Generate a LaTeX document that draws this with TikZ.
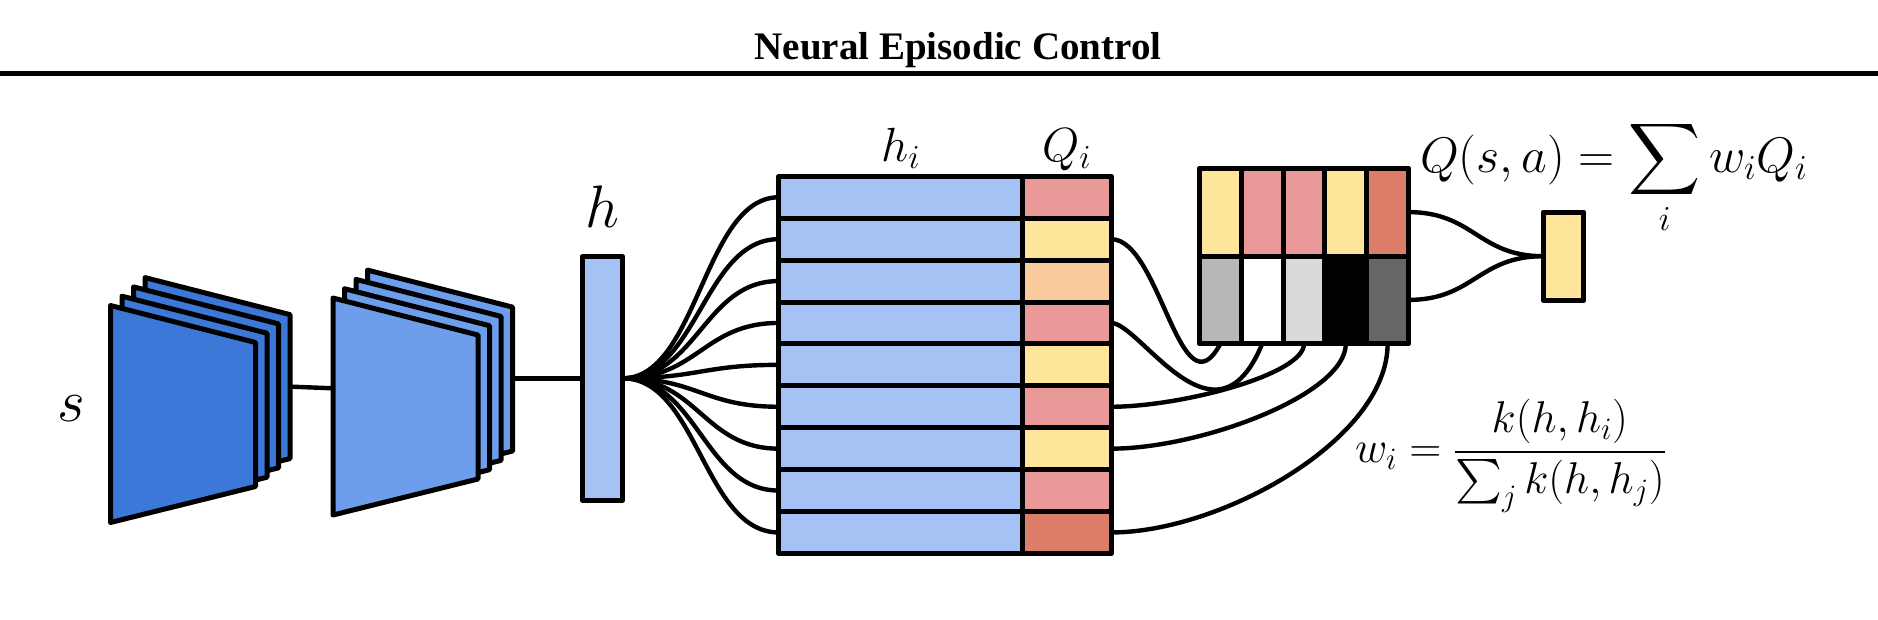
\RequirePackage{fix-cm}
\documentclass[tikz,border=0pt]{standalone}
\usepackage{exscale}
\DeclareFontShape{OMX}{cmex}{m}{n}{<-7.5>cmex7<7.5-8.5>cmex8<8.5-9.5>cmex9<9.5->cmex10}{}
\usepackage{fontspec}
\newfontfamily\titlefont{Liberation Serif}
\definecolor{convA}{HTML}{3C78D8}
\definecolor{convB}{HTML}{6D9EEB}
\definecolor{hblue}{HTML}{A4C2F4}
\definecolor{qred}{HTML}{EA9999}
\definecolor{qyel}{HTML}{FFE599}
\definecolor{qpeach}{HTML}{F9CB9C}
\definecolor{qdark}{HTML}{DD7E6B}
\definecolor{gA}{HTML}{B7B7B7}
\definecolor{gB}{HTML}{FFFFFF}
\definecolor{gC}{HTML}{D9D9D9}
\definecolor{gD}{HTML}{000000}
\definecolor{gE}{HTML}{666666}
\begin{document}
\begin{tikzpicture}[x=1pt,y=-1pt,line width=5pt,line join=round,
  cell/.style={draw,rectangle,inner sep=0pt,outer sep=0pt},
  hcell/.style={cell,fill=hblue,minimum width=243.9pt,minimum height=41.9pt},
  qcell/.style={cell,minimum width=88.5pt,minimum height=41.9pt},
  gcell/.style={cell,minimum width=41.8pt,minimum height=87.8pt},
  panel/.style={draw,fill=#1},
  wire/.style={line width=4.4pt},
  lbl/.style={inner sep=0pt,outer sep=0pt,anchor=base},
  biglbl/.style={lbl,font=\fontsize{60}{70}\selectfont},
  midlbl/.style={lbl,font=\fontsize{48}{58}\selectfont}]
\useasboundingbox (0,0) rectangle (1878,619);
% title and rule
\node[lbl,font=\titlefont\bfseries\fontsize{39}{46}\selectfont] (title) at (958,59) {Neural Episodic Control};
\draw[line width=5pt] (0,73.5) -- (1878,73.5);
% input label
\node[biglbl] (slabel) at (71,421) {$s$};
% first conv stack
\foreach \k in {3,2,1,0}
  \draw[panel=convA] (110.5+11.5*\k,305.5-9.3*\k) -- ++(145,37) -- ++(0,144) -- ++(-145,36) -- cycle;
\coordinate (s1out) at (290,386.6);
\coordinate (s2in) at (333,388.3);
\draw[wire] (s1out) -- (s2in);
% second conv stack
\foreach \k in {3,2,1,0}
  \draw[panel=convB] (333+11.5*\k,298-9.3*\k) -- ++(145,37) -- ++(0,144) -- ++(-145,36) -- cycle;
\coordinate (s2out) at (512.5,378.3);
% embedding h
\node[cell,fill=hblue,minimum width=40.4pt,minimum height=243.5pt] (hbar) at (602.5,378.3) {};
\node[biglbl] (hlabel) at (602.5,227) {$h$};
\draw[wire] (s2out) -- (hbar.west);
% memory table
\foreach \c [count=\k] in {qred,qyel,qpeach,qred,qyel,qred,qyel,qred,qdark}{
  \node[hcell] (h\k) at (900.75,197.25+41.9*\k-41.9) {};
  \node[qcell,fill=\c] (q\k) at (1066.95,197.25+41.9*\k-41.9) {};
}
\node[midlbl] (hilabel) at (900.8,161.7) {$h_i$};
\node[midlbl] (qilabel) at (1066.5,161.5) {$Q_i$};
\foreach \k in {1,...,9}
  \draw[wire] (hbar.east) .. controls +(75,0) and +(-75,0) .. (h\k.west);
% lookup grid
\foreach \c [count=\k] in {qyel,qred,qred,qyel,qdark}
  \node[gcell,fill=\c] (t\k) at (1220.4+41.8*\k-41.8,212.1) {};
\foreach \c [count=\k] in {gA,gB,gC,gD,gE}
  \node[gcell,fill=\c] (b\k) at (1220.4+41.8*\k-41.8,299.9) {};
\draw[wire] (q2.east) .. controls +(49,0) and +(-40,74) .. (b1.south);
\draw[wire] (q4.east) .. controls +(29,0) and +(-47,114) .. (b2.south);
\draw[wire] (q6.east) .. controls +(69,0) and +(0,31) .. (b3.south);
\draw[wire] (q7.east) .. controls +(89,0) and +(0,51) .. (b4.south);
\draw[wire] (q9.east) .. controls +(109,0) and +(0,96) .. (b5.south);
% output
\node[cell,fill=qyel,minimum width=40.6pt,minimum height=88.1pt] (out) at (1563.5,256.2) {};
\draw[wire] (t5.east) .. controls +(65,0) and +(-65,0) .. (out.west);
\draw[wire] (b5.east) .. controls +(65,0) and +(-65,0) .. (out.west);
% formulas
\node[lbl,anchor=base west,font=\fontsize{50}{60}\selectfont] (qsa) at (1420,172) {$\displaystyle Q(s,a)=\sum_i w_iQ_i$};
\node[lbl,anchor=base west,font=\fontsize{44.5}{53}\selectfont] (wi) at (1355,462.8) {$\displaystyle w_i=\frac{k(h,h_i)}{\textstyle\sum_j k(h,h_j)}$};
\end{tikzpicture}
\end{document}
